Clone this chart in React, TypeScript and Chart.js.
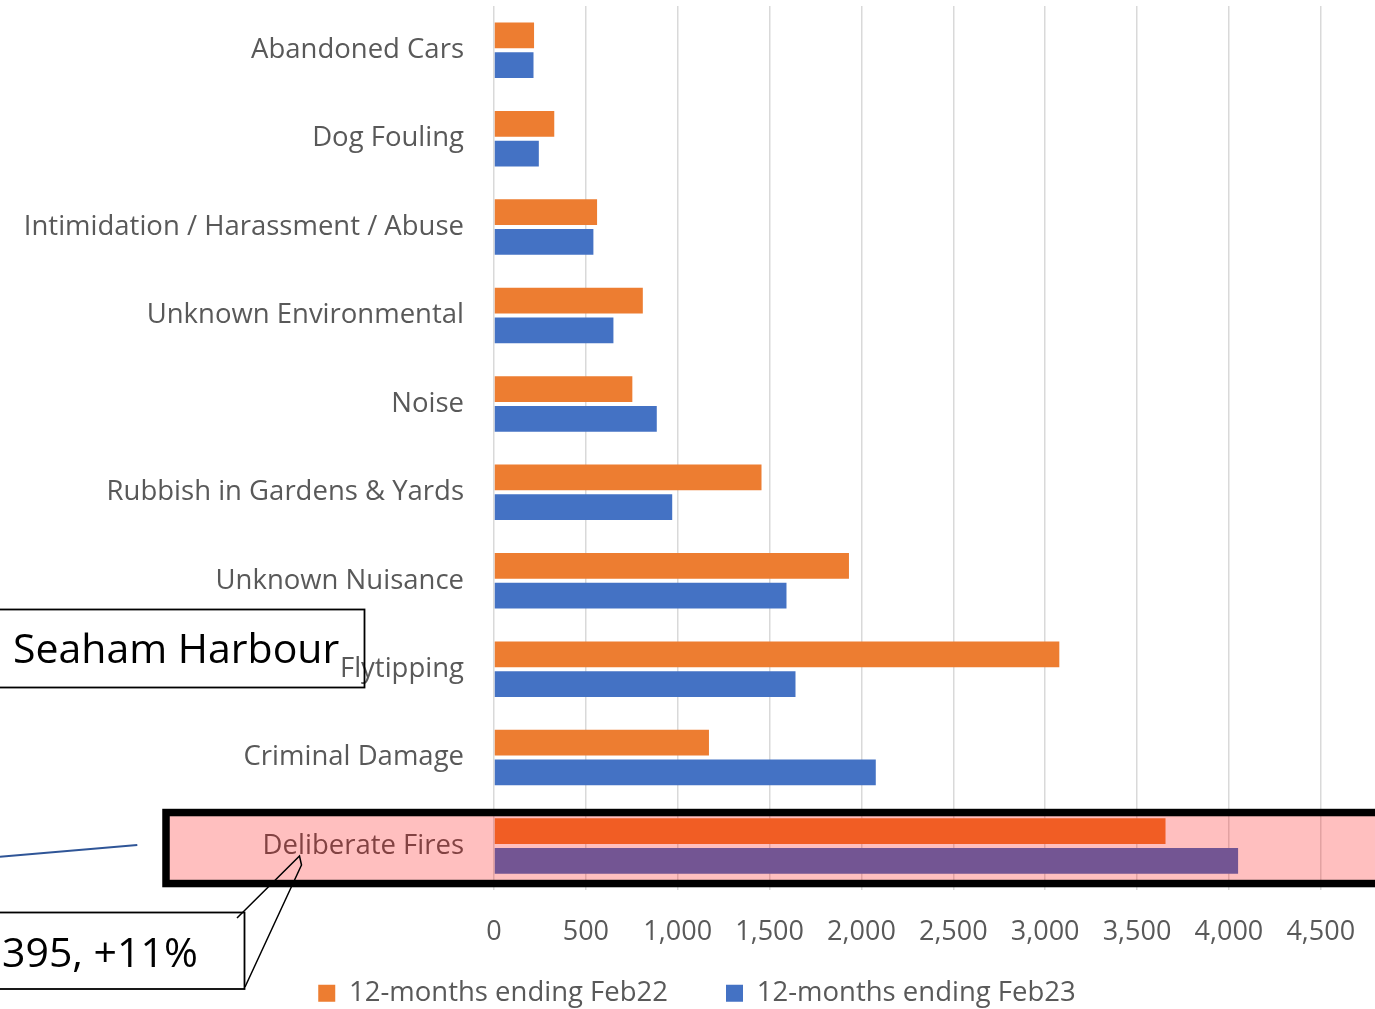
import { useEffect, useRef } from 'react';
import { Chart, registerables } from 'chart.js';

Chart.register(...registerables);

const categories = [
  'Abandoned Cars',
  'Dog Fouling',
  'Intimidation / Harassment / Abuse',
  'Unknown Environmental',
  'Noise',
  'Rubbish in Gardens & Yards',
  'Unknown Nuisance',
  'Flytipping',
  'Criminal Damage',
  'Deliberate Fires',
];
const feb22Values = [218, 328, 561, 810, 753, 1456, 1932, 3077, 1170, 3655];
const feb23Values = [215, 244, 541, 650, 886, 970, 1592, 1641, 2078, 4050];
const seriesLabels = ['12-months ending Feb22', '12-months ending Feb23'];
const highlightCategory = 'Deliberate Fires';
const areaLabel = 'Seaham Harbour';
const changeLabel = '395, +11%';

const FONT = "'Open Sans', sans-serif";
const CANVAS_W = 1473;
const CANVAS_H = 1017;
const PAD_LEFT = -42;

const annotationPlugin = {
  id: 'annotations',
  afterLayout(chart: any) {
    // let x tick labels extend below the (shortened) axis box
    const x = chart.scales.x;
    x.bottom = chart.height;
  },
  afterDraw(chart: any) {
    const ctx = chart.ctx as CanvasRenderingContext2D;
    const y = chart.scales.y;
    const idx = categories.indexOf(highlightCategory);
    const cy = y.getPixelForValue(idx);
    ctx.save();
    // highlight band (semi-transparent red over bars and label)
    ctx.fillStyle = 'rgba(255,0,0,0.25)';
    ctx.fillRect(168, cy - 30, chart.width, 64);
    ctx.lineWidth = 7.5;
    ctx.strokeStyle = '#000';
    ctx.strokeRect(166, cy - 33.5, chart.width + 20, 71);

    // area label box
    ctx.lineWidth = 1.8;
    ctx.strokeRect(-10, 609.5, 374.5, 78);
    ctx.fillStyle = '#000';
    ctx.font = `41px ${FONT}`;
    ctx.textBaseline = 'alphabetic';
    ctx.textAlign = 'left';
    ctx.fillText(areaLabel, 13, 663);

    // change callout box
    ctx.strokeRect(-10, 912.5, 254.5, 76.5);
    ctx.fillText(changeLabel, 2, 967);
    ctx.lineWidth = 1.5;
    ctx.beginPath();
    ctx.moveTo(237, 918);
    ctx.lineTo(299.5, 856);
    ctx.lineTo(301.5, 865);
    ctx.lineTo(245, 987);
    ctx.stroke();

    // connector line
    ctx.strokeStyle = '#2F5597';
    ctx.lineWidth = 2;
    ctx.beginPath();
    ctx.moveTo(0, 856.7);
    ctx.lineTo(137.3, 845);
    ctx.stroke();
    ctx.restore();
  },
};

export default function App() {
  const ref = useRef<HTMLCanvasElement | null>(null);
  useEffect(() => {
    if (!ref.current) return;
    const chart = new Chart(ref.current, {
      type: 'bar',
      data: {
        labels: categories,
        datasets: [
          {
            label: seriesLabels[0],
            data: feb22Values,
            backgroundColor: '#ED7D31',
            categoryPercentage: 0.673,
            barPercentage: 0.866,
          },
          {
            label: seriesLabels[1],
            data: feb23Values,
            backgroundColor: '#4472C4',
            categoryPercentage: 0.673,
            barPercentage: 0.866,
          },
        ],
      },
      options: {
        indexAxis: 'y',
        responsive: false,
        animation: false,
        devicePixelRatio: 1,
        layout: { padding: { top: 6, right: 37, left: PAD_LEFT, bottom: 0 } },
        scales: {
          x: {
            min: 0,
            max: 5000,
            ticks: {
              stepSize: 500,
              color: '#595959',
              font: { family: FONT, size: 27 },
              padding: 26,
            },
            grid: { color: '#D9D9D9', lineWidth: 1.5, drawTicks: false },
            border: { display: false },
            afterFit(scale: any) {
              scale.height = 31.25;
            },
          },
          y: {
            ticks: {
              color: '#595959',
              font: { family: FONT, size: 27.5 },
              padding: 30,
            },
            grid: { display: false, drawTicks: false },
            border: { display: false },
            afterFit(scale: any) {
              scale.width = 494 - PAD_LEFT;
              scale.paddingTop = 0;
              scale.paddingBottom = 0;
            },
          },
        },
        plugins: {
          legend: {
            position: 'bottom',
            labels: {
              color: '#595959',
              font: { family: FONT, size: 27.5 },
              boxWidth: 17,
              boxHeight: 17,
              padding: 58,
            },
          },
          tooltip: { enabled: false },
        },
      },
      plugins: [annotationPlugin],
    });
    return () => chart.destroy();
  }, []);
  return (
    <div
      style={{
        position: 'absolute',
        left: 0,
        top: 0,
        width: 1375,
        height: 1009,
        overflow: 'hidden',
        background: '#fff',
      }}
    >
      <canvas ref={ref} width={CANVAS_W} height={CANVAS_H} style={{ display: 'block' }} />
    </div>
  );
}
